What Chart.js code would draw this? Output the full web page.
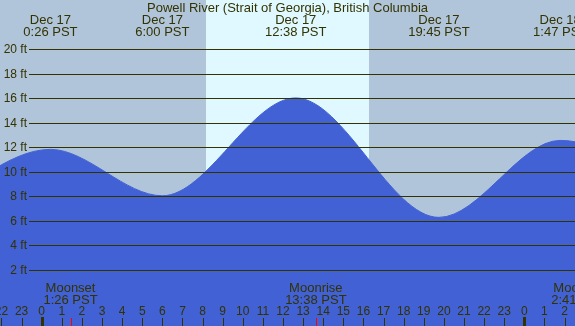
<!DOCTYPE html>
<html>
<head>
<meta charset="utf-8">
<script src="https://cdn.jsdelivr.net/npm/chart.js@4/dist/chart.umd.min.js"></script>
<style>
html,body{margin:0;padding:0;background:#b0c4de;}
canvas{display:block;}
</style>
</head>
<body>
<canvas id="c" width="575" height="326"></canvas>
<script>
// ---- Data (hours relative to Dec 17 00:00 PST) ----
const chartTitle = "Powell River (Strait of Georgia), British Columbia";
const tideHours = [-6.0, 0.433, 6.0, 12.633, 19.75, 25.783, 32.0];
const tideFeet  = [6.4, 11.83, 8.05, 16.02, 6.29, 12.56, 8.5];
const extremeHours = [0.433, 6.0, 12.633, 19.75, 25.783];
const extremeDates = ["Dec 17", "Dec 17", "Dec 17", "Dec 17", "Dec 18"];
const extremeTimes = ["0:26 PST", "6:00 PST", "12:38 PST", "19:45 PST", "1:47 PST"];
const sunriseHour = 8.17;
const sunsetHour = 16.26;
const moonHours = [1.433, 13.633, 26.683];
const moonNames = ["Moonset", "Moonrise", "Moonset"];
const moonTimes = ["1:26 PST", "13:38 PST", "2:41 PST"];
const hourTicks  = [-2,-1,0,1,2,3,4,5,6,7,8,9,10,11,12,13,14,15,16,17,18,19,20,21,22,23,24,25,26];
const hourLabels = ["22","23","0","1","2","3","4","5","6","7","8","9","10","11","12","13","14","15","16","17","18","19","20","21","22","23","0","1","2"];
const depthTicks = [2,4,6,8,10,12,14,16,18,20];
const depthLabels = ["2 ft","4 ft","6 ft","8 ft","10 ft","12 ft","14 ft","16 ft","18 ft","20 ft"];

const X_MIN = -2.074, X_MAX = 26.52;
const Y_MIN = -2.56, Y_MAX = 24.0;

const NIGHT = "#b0c4da", DAY = "#e0f8ff", WATER = "#4161d4", INK = "#333300";
const FONT = "'Liberation Sans', Arial, sans-serif";

const decor = {
  id: "decor",
  beforeDatasetsDraw(chart) {
    const {ctx, scales:{x}} = chart;
    ctx.save();
    ctx.fillStyle = NIGHT;
    ctx.fillRect(0, 0, chart.width, chart.height);
    const x0 = Math.round(x.getPixelForValue(sunriseHour));
    const x1 = Math.round(x.getPixelForValue(sunsetHour));
    ctx.fillStyle = DAY;
    ctx.fillRect(x0, 0, x1 - x0, chart.height);
    ctx.restore();
  },
  afterDatasetsDraw(chart) {
    const {ctx, scales:{x, y}} = chart;
    const W = chart.width, H = chart.height;
    ctx.save();
    // horizontal grid lines + labels
    ctx.strokeStyle = INK;
    ctx.lineWidth = 1;
    ctx.fillStyle = INK;
    ctx.font = "12px " + FONT;
    ctx.textAlign = "right";
    ctx.textBaseline = "middle";
    depthTicks.forEach((v, i) => {
      const py = Math.round(y.getPixelForValue(v)) + 0.5;
      ctx.beginPath();
      ctx.moveTo(29, py);
      ctx.lineTo(W, py);
      ctx.stroke();
      ctx.fillText(depthLabels[i], 27, py);
    });
    // title
    ctx.textAlign = "center";
    ctx.textBaseline = "alphabetic";
    ctx.font = "13px " + FONT;
    ctx.fillText(chartTitle, W / 2, 12);
    // tide extreme headers
    extremeHours.forEach((h, i) => {
      const px = x.getPixelForValue(h);
      ctx.fillText(extremeDates[i], px, 24);
      ctx.fillText(extremeTimes[i], px, 36);
    });
    // moon labels
    moonHours.forEach((h, i) => {
      const px = x.getPixelForValue(h);
      ctx.fillText(moonNames[i], px, 292);
      ctx.fillText(moonTimes[i], px, 304);
    });
    // hour labels + ticks
    ctx.font = "12px " + FONT;
    hourTicks.forEach((h, i) => {
      const px = x.getPixelForValue(h);
      ctx.fillText(hourLabels[i], px, 315);
      const midnight = hourLabels[i] === "0";
      ctx.fillStyle = INK;
      if (midnight) ctx.fillRect(Math.round(px) - 1, 317, 3, H - 317);
      else ctx.fillRect(Math.round(px), 318, 1, H - 318);
    });
    // moon ticks (red)
    ctx.fillStyle = "#ff0000";
    moonHours.forEach(h => {
      const px = Math.round(x.getPixelForValue(h));
      ctx.fillRect(px, 318, 1, H - 318);
    });
    ctx.restore();
  }
};

new Chart(document.getElementById("c"), {
  type: "line",
  data: {
    datasets: [{
      data: tideHours.map((h, i) => ({x: h, y: tideFeet[i]})),
      fill: "start",
      backgroundColor: WATER,
      borderColor: WATER,
      borderWidth: 1,
      pointRadius: 0,
      cubicInterpolationMode: "monotone"
    }]
  },
  options: {
    responsive: false,
    devicePixelRatio: 1,
    animation: false,
    events: [],
    layout: {padding: 0},
    plugins: {legend: {display: false}, tooltip: {enabled: false}, title: {display: false}},
    scales: {
      x: {type: "linear", min: X_MIN, max: X_MAX, display: false},
      y: {type: "linear", min: Y_MIN, max: Y_MAX, display: false}
    }
  },
  plugins: [decor]
});
</script>
</body>
</html>
